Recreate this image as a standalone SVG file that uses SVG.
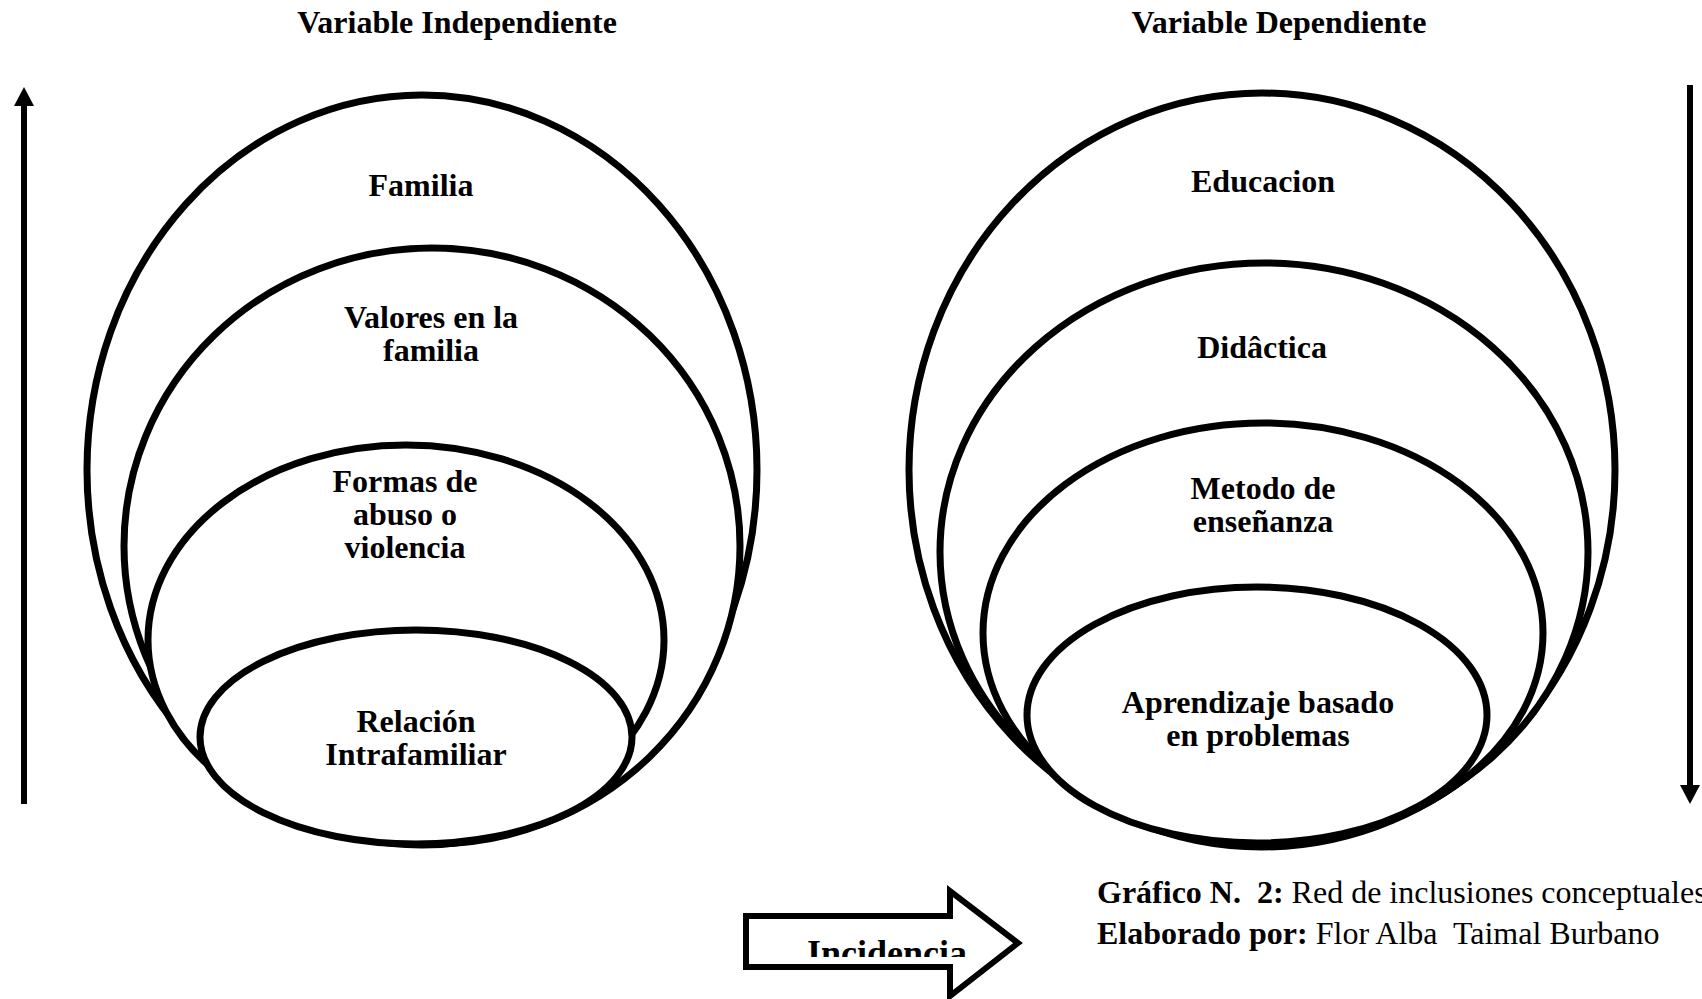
<svg xmlns="http://www.w3.org/2000/svg" width="1702" height="999" viewBox="0 0 1702 999">
  <style>
    .ell { fill: #ffffff; stroke: #000000; stroke-width: 7; }
    .lbl { font-family: "Liberation Serif", "Times New Roman", serif; font-weight: bold; font-size: 32px; fill: #000000; text-anchor: middle; }
    .cap { font-family: "Liberation Serif", "Times New Roman", serif; font-size: 32px; fill: #000000; white-space: pre; }
    .b { font-weight: bold; }
    .shaft { stroke: #000000; stroke-width: 6; fill: none; }
    .head { fill: #000000; stroke: none; }
  </style>
  <defs>
    <clipPath id="incClip">
      <rect x="740" y="880" width="300" height="77"/>
    </clipPath>
  </defs>
  <rect x="0" y="0" width="1702" height="999" fill="#ffffff"/>

  <!-- Titles -->
  <text class="lbl" x="457" y="33">Variable Independiente</text>
  <text class="lbl" x="1279" y="33">Variable Dependiente</text>

  <!-- Left group -->
  <g id="familia">
    <ellipse class="ell" cx="422" cy="470" rx="335" ry="375"/>
    <text class="lbl" x="421" y="196">Familia</text>
  </g>
  <g id="valores">
    <ellipse class="ell" cx="432" cy="546" rx="308" ry="298"/>
    <text class="lbl" x="431" y="328">Valores en la</text>
    <text class="lbl" x="431" y="361">familia</text>
  </g>
  <g id="formas">
    <ellipse class="ell" cx="406" cy="640" rx="258" ry="195"/>
    <text class="lbl" x="405" y="492">Formas de</text>
    <text class="lbl" x="405" y="525">abuso o</text>
    <text class="lbl" x="405" y="558">violencia</text>
  </g>
  <g id="relacion">
    <ellipse class="ell" cx="416" cy="737" rx="216" ry="107"/>
    <text class="lbl" x="416" y="732">Relación</text>
    <text class="lbl" x="416" y="765">Intrafamiliar</text>
  </g>

  <!-- Right group -->
  <g id="educacion">
    <ellipse class="ell" cx="1262" cy="470" rx="353" ry="377"/>
    <text class="lbl" x="1263" y="192">Educacion</text>
  </g>
  <g id="didactica">
    <ellipse class="ell" cx="1264" cy="552" rx="324" ry="289"/>
    <text class="lbl" x="1262" y="358">Didâctica</text>
  </g>
  <g id="metodo">
    <ellipse class="ell" cx="1263" cy="633" rx="280" ry="210"/>
    <text class="lbl" x="1263" y="499">Metodo de</text>
    <text class="lbl" x="1263" y="532">enseñanza</text>
  </g>
  <g id="aprendizaje">
    <ellipse class="ell" cx="1257" cy="715" rx="230" ry="128"/>
    <text class="lbl" x="1258" y="713">Aprendizaje basado</text>
    <text class="lbl" x="1258" y="746">en problemas</text>
  </g>

  <!-- Connectors -->
  <g id="connectors">
    <line class="shaft" x1="24" y1="804" x2="24" y2="104"/>
    <polygon class="head" points="24,87 14,106 34,106"/>
    <line class="shaft" x1="1690" y1="85" x2="1690" y2="787"/>
    <polygon class="head" points="1680,785 1700,785 1690,804"/>
  </g>

  <!-- Incidencia block arrow -->
  <g id="incidencia">
    <polygon points="746,916 950,916 950,891 1018,943 950,996 950,967 746,967" fill="#ffffff" stroke="#000000" stroke-width="6" stroke-linejoin="miter"/>
    <g clip-path="url(#incClip)">
      <text class="lbl" x="887" y="965" style="font-size:36px">Incidencia</text>
    </g>
  </g>

  <!-- Caption -->
  <g id="caption">
    <text class="cap" x="1097" y="903"><tspan class="b">Gráfico N.  2:</tspan> Red de inclusiones conceptuales</text>
    <text class="cap" x="1097" y="944"><tspan class="b">Elaborado por:</tspan> Flor Alba  Taimal Burbano</text>
  </g>
</svg>
